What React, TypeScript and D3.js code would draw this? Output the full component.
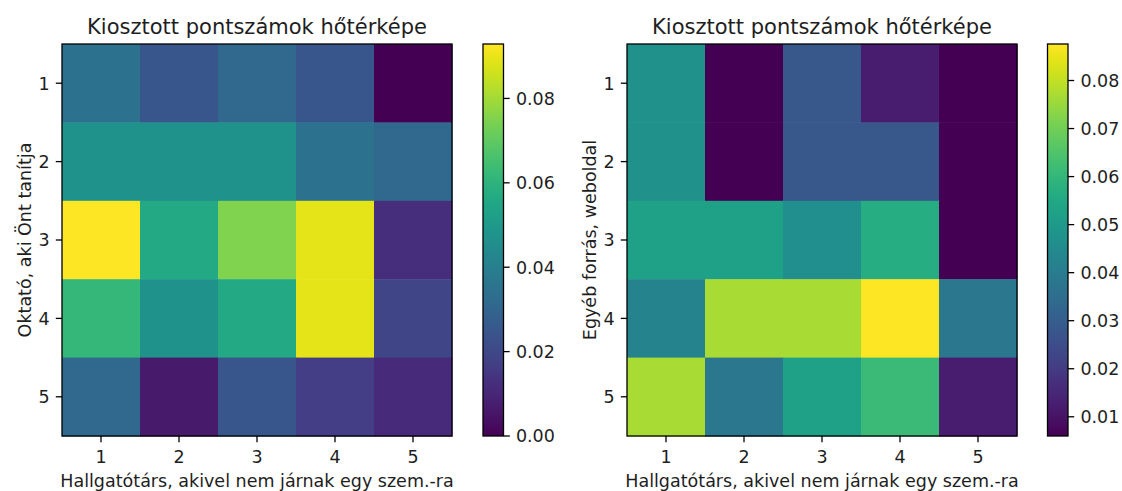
import React from "react";
import * as d3 from "d3";

const categories = ["1", "2", "3", "4", "5"];

// Left heatmap: rows = Oktató (1..5), columns = Hallgatótárs (1..5)
const leftRow1 = [0.035, 0.025, 0.031, 0.025, 0.0];
const leftRow2 = [0.047, 0.047, 0.047, 0.035, 0.031];
const leftRow3 = [0.0929, 0.056, 0.075, 0.089, 0.012];
const leftRow4 = [0.062, 0.047, 0.056, 0.089, 0.019];
const leftRow5 = [0.031, 0.0065, 0.025, 0.017, 0.011];

// Right heatmap: rows = Egyéb forrás (1..5), columns = Hallgatótárs (1..5)
const rightRow1 = [0.0468, 0.006, 0.028, 0.0124, 0.006];
const rightRow2 = [0.0468, 0.006, 0.028, 0.028, 0.006];
const rightRow3 = [0.0524, 0.0524, 0.0464, 0.0564, 0.006];
const rightRow4 = [0.0424, 0.077, 0.077, 0.0876, 0.0384];
const rightRow5 = [0.077, 0.0384, 0.0524, 0.0614, 0.0124];

const leftTicks = [0.0, 0.02, 0.04, 0.06, 0.08];
const rightTicks = [0.01, 0.02, 0.03, 0.04, 0.05, 0.06, 0.07, 0.08];

const title = "Kiosztott pontszámok hőtérképe";
const xTitle = "Hallgatótárs, akivel nem járnak egy szem.-ra";
const leftYTitle = "Oktató, aki Önt tanítja";
const rightYTitle = "Egyéb forrás, weboldal";

const FONT = "DejaVu Sans, sans-serif";
const TEXT = "#1e1e1e";
const FS = 17.5;
const TFS = 21;
const TICK = 6.2;
const LW = 1.3;

type PanelProps = {
  id: string;
  grid: number[][];
  ticks: number[];
  yTitle: string;
  x0: number;
  x1: number;
  y0: number;
  y1: number;
  cbX0: number;
  cbX1: number;
};

function Panel({ id, grid, ticks, yTitle, x0, x1, y0, y1, cbX0, cbX1 }: PanelProps) {
  const all = grid.flat();
  const [mn, mx] = d3.extent(all) as [number, number];
  const color = d3.scaleSequential(d3.interpolateViridis).domain([mn, mx]);
  const xs = d3.scaleBand<string>().domain(categories).range([x0, x1]).padding(0);
  const ys = d3.scaleBand<string>().domain(categories).range([y0, y1]).padding(0);
  const cb = d3.scaleLinear().domain([mn, mx]).range([y1, y0]);
  const stops = d3.range(0, 1.0001, 0.02);
  const fmt = d3.format(".2f");
  const midY = (y0 + y1) / 2;
  return (
    <g>
      <defs>
        <linearGradient id={id} x1="0" y1="1" x2="0" y2="0">
          {stops.map((t) => (
            <stop key={t} offset={`${t * 100}%`} stopColor={d3.interpolateViridis(t)} />
          ))}
        </linearGradient>
      </defs>
      <text x={(x0 + x1) / 2} y={33.5} textAnchor="middle" fontSize={TFS} fontFamily={FONT} fill={TEXT}>
        {title}
      </text>
      {grid.map((row, ri) =>
        row.map((v, ci) => (
          <rect
            key={`${ri}-${ci}`}
            x={xs(categories[ci])}
            y={ys(categories[ri])}
            width={xs.bandwidth() + 0.5}
            height={ys.bandwidth() + 0.5}
            fill={color(v)}
          />
        ))
      )}
      <rect x={x0} y={y0} width={x1 - x0} height={y1 - y0} fill="none" stroke="#000" strokeWidth={LW} />
      {categories.map((c) => {
        const cx = (xs(c) as number) + xs.bandwidth() / 2;
        return (
          <g key={"xt" + c}>
            <line x1={cx} x2={cx} y1={y1} y2={y1 + TICK} stroke="#000" strokeWidth={LW} />
            <text x={cx} y={y1 + 26.5} textAnchor="middle" fontSize={FS} fontFamily={FONT} fill={TEXT}>
              {c}
            </text>
          </g>
        );
      })}
      {categories.map((c) => {
        const cy = (ys(c) as number) + ys.bandwidth() / 2;
        return (
          <g key={"yt" + c}>
            <line x1={x0 - TICK} x2={x0} y1={cy} y2={cy} stroke="#000" strokeWidth={LW} />
            <text x={x0 - 12.4} y={cy + 6.3} textAnchor="end" fontSize={FS} fontFamily={FONT} fill={TEXT}>
              {c}
            </text>
          </g>
        );
      })}
      <text x={(x0 + x1) / 2} y={487} textAnchor="middle" fontSize={FS} fontFamily={FONT} fill={TEXT}>
        {xTitle}
      </text>
      <text
        transform={`translate(${x0 - 31},${midY}) rotate(-90)`}
        textAnchor="middle"
        fontSize={FS}
        fontFamily={FONT}
        fill={TEXT}
      >
        {yTitle}
      </text>
      <rect x={cbX0} y={y0} width={cbX1 - cbX0} height={y1 - y0} fill={`url(#${id})`} stroke="#000" strokeWidth={LW} />
      {ticks.map((t) => {
        const ty = cb(t);
        return (
          <g key={"cb" + t}>
            <line x1={cbX1} x2={cbX1 + TICK} y1={ty} y2={ty} stroke="#000" strokeWidth={LW} />
            <text x={cbX1 + 12.4} y={ty + 6.3} textAnchor="start" fontSize={FS} fontFamily={FONT} fill={TEXT}>
              {fmt(t)}
            </text>
          </g>
        );
      })}
    </g>
  );
}

export default function App() {
  const leftGrid = [leftRow1, leftRow2, leftRow3, leftRow4, leftRow5];
  const rightGrid = [rightRow1, rightRow2, rightRow3, rightRow4, rightRow5];
  return (
    <svg
      width={1122}
      height={491}
      style={{ position: "absolute", left: 0, top: 0, background: "#fff" }}
    >
      <rect x={0} y={0} width={1122} height={491} fill="#fff" />
      <Panel id="cbL" grid={leftGrid} ticks={leftTicks} yTitle={leftYTitle} x0={62} x1={452} y0={44} y1={436} cbX0={483} cbX1={503.5} />
      <Panel id="cbR" grid={rightGrid} ticks={rightTicks} yTitle={rightYTitle} x0={627} x1={1017} y0={44} y1={436} cbX0={1047.5} cbX1={1068} />
    </svg>
  );
}
